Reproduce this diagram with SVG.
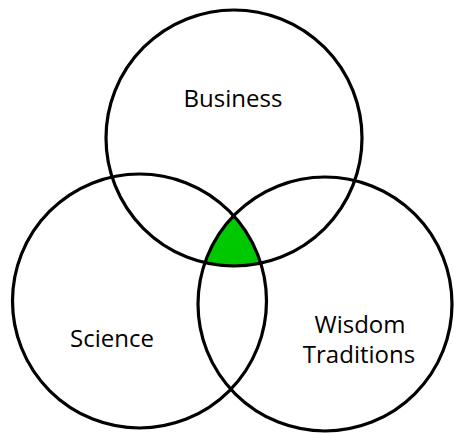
<svg xmlns="http://www.w3.org/2000/svg" width="454" height="433" viewBox="0 0 454 433">
<style>
.c{fill:none;stroke:#000;stroke-width:3.2}
.t{font-family:"Open Sans","Liberation Sans",sans-serif;font-size:24px;fill:#000;text-anchor:middle}
</style>
<defs>
<clipPath id="cs"><circle cx="139.5" cy="301" r="127"/></clipPath>
<clipPath id="cw"><circle cx="325" cy="304" r="127"/></clipPath>
</defs>
<rect width="454" height="433" fill="#fff"/>
<g id="overlap" clip-path="url(#cs)"><g clip-path="url(#cw)"><circle cx="234" cy="138" r="128" fill="#00c800"/></g></g>
<g id="business"><circle class="c" cx="234" cy="138" r="128"/><text class="t" x="233" y="107">Business</text></g>
<g id="science"><circle class="c" cx="139.5" cy="301" r="127"/><text class="t" x="112" y="347">Science</text></g>
<g id="wisdom"><circle class="c" cx="325" cy="304" r="127"/><text class="t" x="360" y="333">Wisdom</text><text class="t" x="359" y="363">Traditions</text></g>
</svg>
